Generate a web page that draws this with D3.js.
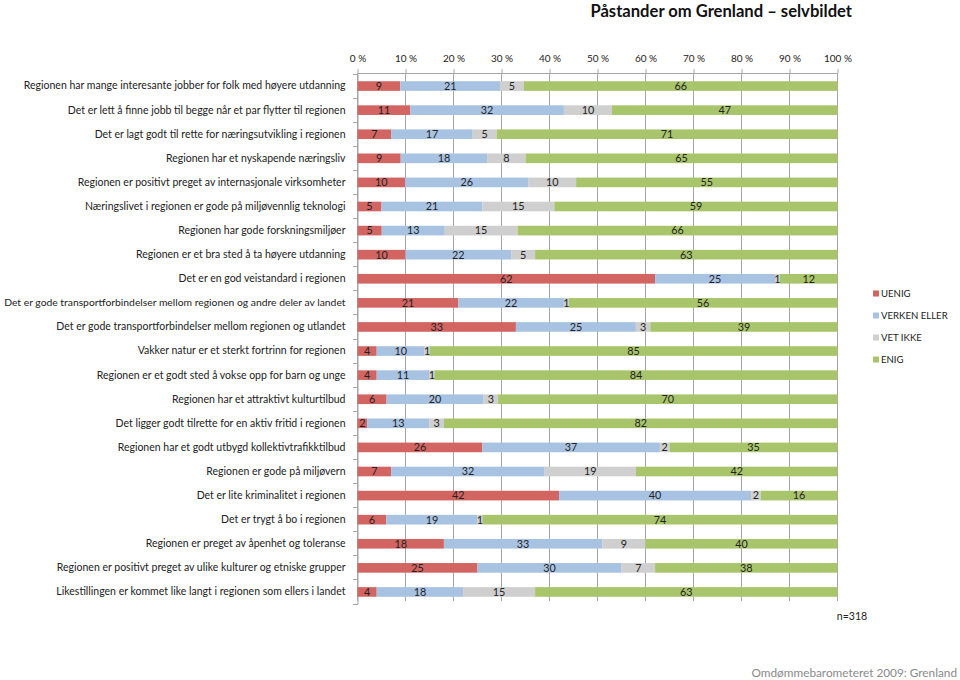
<!DOCTYPE html>
<html><head><meta charset="utf-8">
<script src="https://cdn.jsdelivr.net/npm/d3@7"></script>
<style>body{margin:0;background:#fff}</style>
</head><body>
<svg id="c" width="960" height="680"></svg>
<script>
const categories = [
 "Regionen har mange interesante jobber for folk med høyere utdanning",
 "Det er lett å finne jobb til begge når et par flytter til regionen",
 "Det er lagt godt til rette for næringsutvikling i regionen",
 "Regionen har et nyskapende næringsliv",
 "Regionen er positivt preget av internasjonale virksomheter",
 "Næringslivet i regionen er gode på miljøvennlig teknologi",
 "Regionen har gode forskningsmiljøer",
 "Regionen er et bra sted å ta høyere utdanning",
 "Det er en god veistandard i regionen",
 "Det er gode transportforbindelser mellom regionen og andre deler av landet",
 "Det er gode transportforbindelser mellom regionen og utlandet",
 "Vakker natur er et sterkt fortrinn for regionen",
 "Regionen er et godt sted å vokse opp for barn og unge",
 "Regionen har et attraktivt kulturtilbud",
 "Det ligger godt tilrette for en aktiv fritid i regionen",
 "Regionen har et godt utbygd kollektivtrafikktilbud",
 "Regionen er gode på miljøvern",
 "Det er lite kriminalitet i regionen",
 "Det er trygt å bo i regionen",
 "Regionen er preget av åpenhet og toleranse",
 "Regionen er positivt preget av ulike kulturer og etniske grupper",
 "Likestillingen er kommet like langt i regionen som ellers i landet"
];
const seriesNames = ["UENIG","VERKEN ELLER","VET IKKE","ENIG"];
const uenig   = [9,11,7,9,10,5,5,10,62,21,33,4,4,6,2,26,7,42,6,18,25,4];
const verken  = [21,32,17,18,26,21,13,22,25,22,25,10,11,20,13,37,32,40,19,33,30,18];
const vetIkke = [5,10,5,8,10,15,15,5,1,1,3,1,1,3,3,2,19,2,1,9,7,15];
const enig    = [66,47,71,65,55,59,66,63,12,56,39,85,84,70,82,35,42,16,74,40,38,63];
const tickValues = [0,10,20,30,40,50,60,70,80,90,100];
const colors = ["#D26562","#A8C2E2","#CFCFCF","#A9C56B"];
const title = "Påstander om Grenland – selvbildet";
const nText = "n=318";
const footer = "Omdømmebarometeret 2009: Grenland";

const font = "Lato, 'Open Sans', sans-serif";
const svg = d3.select("#c");
const x0 = 357.5, x1 = 837.5, yTop = 74, yBot = 604;
const x = d3.scaleLinear().domain([0,100]).range([x0,x1]);
const y = d3.scaleBand().domain(categories).range([yTop,yBot]).paddingInner(0.6).paddingOuter(0.3);

// title
svg.append("text").attr("x",852).attr("y",17).attr("text-anchor","end")
  .attr("font-family",font).attr("font-weight","bold").attr("font-size",16.6).attr("fill","#111").text(title);

// gridlines
svg.append("g").selectAll("line").data(tickValues).join("line")
  .attr("x1",d=>x(d)).attr("x2",d=>x(d)).attr("y1",yTop-1).attr("y2",yBot-3)
  .attr("stroke","#A6A6A6").attr("stroke-width",1).attr("shape-rendering","crispEdges");

// top axis
const xAxis = d3.axisTop(x).tickValues(tickValues).tickFormat(d=>d+" %").tickSize(4).tickSizeOuter(0);
const gx = svg.append("g").attr("transform",`translate(0,${yTop-1})`).call(xAxis);
gx.select(".domain").attr("stroke","#A6A6A6");
gx.selectAll(".tick line").attr("stroke","#A6A6A6");
gx.selectAll(".tick text").attr("font-family",font).attr("font-size",10).attr("fill","#222").attr("dy","-4");

// left axis
const yAxis = d3.axisLeft(y).tickSize(0).tickPadding(12);
const gy = svg.append("g").attr("transform",`translate(${x0},0)`).call(yAxis);
gy.select(".domain").attr("stroke","#A6A6A6");
gy.selectAll(".tick text").attr("font-family",font).attr("font-size",10.5).attr("fill","#222")
  .each(function(){
    const w = this.getComputedTextLength();
    const maxW = 342;
    if (w > maxW) d3.select(this).attr("font-size", 10.5*maxW/w);
  });
// band-boundary ticks
const bounds = d3.range(categories.length+1).map(i=>yTop + i*(yBot-yTop)/categories.length);
svg.append("g").selectAll("line").data(bounds).join("line")
  .attr("x1",x0-5).attr("x2",x0).attr("y1",d=>d).attr("y2",d=>d)
  .attr("stroke","#A6A6A6").attr("shape-rendering","crispEdges");

// stacked data
const rows = categories.map((c,i)=>({cat:c, UENIG:uenig[i], "VERKEN ELLER":verken[i], "VET IKKE":vetIkke[i], ENIG:enig[i]}));
const stack = d3.stack().keys(seriesNames)(rows);
const normTotals = rows.map(r=>seriesNames.reduce((s,k)=>s+r[k],0));
const gs = svg.append("g").selectAll("g").data(stack).join("g").attr("fill",(d,i)=>colors[i]);
gs.selectAll("rect").data(d=>d.map((v,i)=>({v,i}))).join("rect")
  .attr("x",d=>x(d.v[0]*100/normTotals[d.i]))
  .attr("width",d=>x(d.v[1]*100/normTotals[d.i])-x(d.v[0]*100/normTotals[d.i]))
  .attr("y",d=>y(categories[d.i])).attr("height",y.bandwidth());

const lg = svg.append("g");
stack.forEach((s,si)=>{
  lg.selectAll(null).data(s.map((v,i)=>({v,i}))).join("text")
    .attr("x",d=>(x(d.v[0]*100/normTotals[d.i])+x(d.v[1]*100/normTotals[d.i]))/2)
    .attr("y",d=>y(categories[d.i])+y.bandwidth()/2)
    .attr("dy","0.36em").attr("text-anchor","middle")
    .attr("font-family",font).attr("font-size",10.8).attr("fill","#222")
    .text(d=>d.v[1]-d.v[0]);
});

// legend
const leg = svg.append("g").attr("transform","translate(873,294)");
seriesNames.forEach((n,i)=>{
  const g = leg.append("g").attr("transform",`translate(0,${i*22})`);
  g.append("rect").attr("x",0).attr("y",-3.5).attr("width",6).attr("height",6).attr("fill",colors[i]);
  g.append("text").attr("x",8).attr("y",0).attr("dy","0.35em").attr("font-family",font).attr("font-size",9.6).attr("fill","#222").text(n);
});

svg.append("text").attr("x",852).attr("y",620).attr("text-anchor","middle").attr("font-family",font).attr("font-size",10.6).attr("fill","#222").text(nText);
svg.append("text").attr("x",957).attr("y",677).attr("text-anchor","end").attr("font-family",font).attr("font-size",11.8).attr("fill","#8a8a8a").text(footer);
</script>
</body></html>
